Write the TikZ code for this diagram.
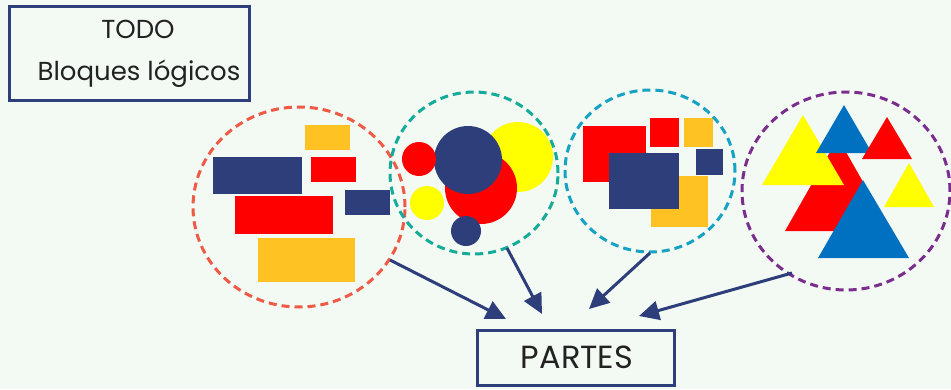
\documentclass[tikz,border=0pt]{standalone}
\usepackage{fontspec}
\setmainfont{Poppins}
\usetikzlibrary{shapes.geometric,arrows.meta}
\definecolor{bg}{HTML}{F3F9F3}
\definecolor{navy}{HTML}{2D3E7B}
\definecolor{gold}{HTML}{FFC222}
\definecolor{rred}{HTML}{FF0000}
\definecolor{yel}{HTML}{FFFF00}
\definecolor{blu}{HTML}{0070C0}
\definecolor{txt}{HTML}{222222}
\definecolor{c1}{HTML}{EE5A45}
\definecolor{c2}{HTML}{14AC98}
\definecolor{c3}{HTML}{16A2C3}
\definecolor{c4}{HTML}{7B2D8E}
\tikzset{
  labelbox/.style={draw=navy, line width=3pt, fill=none, inner sep=0pt},
  group/.style={ellipse, draw=#1, line width=3pt, dash pattern=on 8pt off 5pt, inner sep=0pt},
  conn/.style={draw=navy, line width=3pt, -{Triangle[length=20pt,width=19pt]}},
  txtstyle/.style={text=txt, inner sep=0pt, font=\fontsize{26}{30}\selectfont}
}
\begin{document}
\begin{tikzpicture}[x=1pt,y=-1pt]
\fill[bg] (0,0) rectangle (951,389);
\useasboundingbox (0,0) rectangle (951,389);

% title box
\node[labelbox, minimum width=240pt, minimum height=94pt] (todo) at (129.5,53.5) {};
\node[txtstyle] (todot) at (138,29) {TODO};
\node[txtstyle] (bloq) at (139,74) {Bloques lógicos};

% group 1: rectangles
\fill[gold] (305,125) rectangle (350,150);
\fill[navy] (213,157) rectangle (302,194);
\fill[rred] (311,157) rectangle (356,182);
\fill[navy] (345,190) rectangle (390,215);
\fill[rred] (235,196) rectangle (333,234);
\fill[gold] (258,238) rectangle (355,282);
\node[group=c1, minimum width=212pt, minimum height=200pt] (g1) at (299,207) {};

% group 2: circles
\fill[yel] (518,157) circle (35);
\fill[rred] (481,188) circle (36);
\fill[navy] (468,160) circle (34);
\fill[rred] (419,159) circle (17);
\fill[yel] (427,203) circle (17);
\fill[navy] (466,231) circle (15);
\node[group=c2, minimum width=168pt, minimum height=162pt] (g2) at (474,173) {};

% group 3: squares
\fill[rred] (583,126) rectangle (646,182);
\fill[rred] (650,118) rectangle (679,147);
\fill[gold] (684,118) rectangle (713,147);
\fill[gold] (651,176) rectangle (708,227);
\fill[navy] (609,153) rectangle (679,209);
\fill[navy] (696,149) rectangle (723,175);
\node[group=c3, minimum width=170pt, minimum height=162pt] (g3) at (650,171) {};

% group 4: triangles
\fill[rred] (838,138) -- (891,231) -- (785,231) -- cycle;
\fill[yel] (803,115) -- (844,185) -- (762,185) -- cycle;
\fill[blu] (844,105) -- (872,153) -- (816,153) -- cycle;
\fill[rred] (887,117) -- (912,159) -- (862,159) -- cycle;
\fill[yel] (909,163) -- (934,207) -- (884,207) -- cycle;
\fill[blu] (863,180) -- (909,258) -- (818,258) -- cycle;
\node[group=c4, minimum width=208pt, minimum height=198pt] (g4) at (846,191) {};

% PARTES box
\node[labelbox, minimum width=197pt, minimum height=55pt] (partes) at (576,358) {};
\node[txtstyle, font=\fontsize{32}{36}\selectfont] (partest) at (577,357) {PARTES};

% connectors
\coordinate (s1) at (390,260);
\coordinate (e1) at (506,319);
\coordinate (s2) at (507,248);
\coordinate (e2) at (542,314);
\coordinate (s3) at (650,253);
\coordinate (e3) at (589,309);
\coordinate (s4) at (792,273);
\coordinate (e4) at (639,316);
\draw[conn] (s1) -- (e1);
\draw[conn] (s2) -- (e2);
\draw[conn] (s3) -- (e3);
\draw[conn] (s4) -- (e4);
\end{tikzpicture}
\end{document}
